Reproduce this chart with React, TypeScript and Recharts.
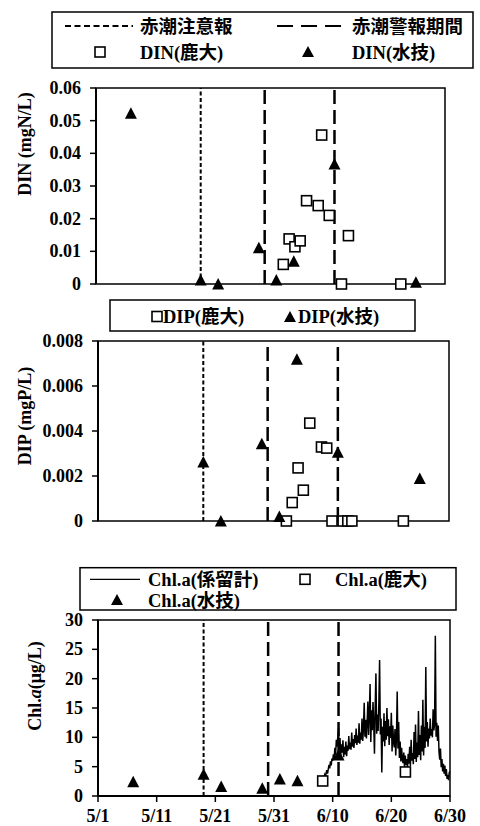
import React from 'react';
import { ComposedChart, Scatter, Line, XAxis, YAxis, ReferenceLine, ReferenceArea, Label } from 'recharts';

// x values are days since 5/1
const dayTicks = [0, 10, 20, 30, 40, 50, 60];
const dayTickLabels = ['5/1', '5/11', '5/21', '5/31', '6/10', '6/20', '6/30'];

const alertDay = 18; // 赤潮注意報
const warningDays = [29, 41]; // 赤潮警報期間

const dinTicks = [0, 0.01, 0.02, 0.03, 0.04, 0.05, 0.06];
const dipTicks = [0, 0.002, 0.004, 0.006, 0.008];
const chlTicks = [0, 5, 10, 15, 20, 25, 30];

const dinKadaiDays = [32.2, 33.2, 34.2, 35.1, 36.2, 38.2, 38.8, 40.1, 42.2, 43.4, 52.4];
const dinKadaiValues = [0.006, 0.0138, 0.0114, 0.0132, 0.0255, 0.024, 0.0456, 0.021, 0, 0.0148, 0];
const dinSuigiDays = [6, 18, 21, 28, 31, 34, 41, 55];
const dinSuigiValues = [0.0523, 0.0012, 0, 0.0111, 0.0012, 0.007, 0.0367, 0.0005];

const dipKadaiDays = [32.2, 33.2, 34.2, 35.1, 36.2, 38.2, 39.1, 40.0, 41.9, 42.7, 43.4, 52.2];
const dipKadaiValues = [0, 0.00082, 0.00236, 0.00137, 0.00435, 0.00329, 0.00324, 0, 0, 0, 0, 0];
const dipSuigiDays = [18, 21, 28, 31, 34, 41, 55];
const dipSuigiValues = [0.00262, 0, 0.00343, 0.0002, 0.00719, 0.00306, 0.00189];

const chlSuigiDays = [6, 18, 21, 28, 31, 34, 41];
const chlSuigiValues = [2.44, 3.7, 1.6, 1.3, 2.9, 2.6, 7.0];
const chlKadaiDays = [38.3, 52.4];
const chlKadaiValues = [2.56, 4.1];

// moored fluorometer (係留計): readings every 3 hours, grouped by day [first sample day, values]
const chlMooredByDay: [number, number[]][] = [
  [38.5, [3.2, 3.6, 3.0, 3.9]],
  [39, [4.4, 3.8, 4.6, 5.3, 4.7, 5.9, 5.2, 6.4]],
  [40, [6.0, 7.1, 6.3, 8.2, 7.0, 9.6, 8.4, 10.1]],
  [41, [11.6, 7.8, 9.9, 6.9, 8.8, 7.4, 9.5, 6.6]],
  [42, [8.4, 7.1, 9.3, 6.8, 8.6, 7.7, 10.2, 8.0]],
  [43, [9.1, 7.9, 10.8, 8.4, 9.7, 8.2, 10.4, 9.0]],
  [44, [11.5, 8.7, 10.3, 9.1, 12.4, 8.9, 10.8, 9.6]],
  [45, [13.2, 9.4, 11.6, 15.9, 10.1, 13.0, 9.8, 12.5]],
  [46, [16.1, 10.4, 13.8, 19.1, 9.2, 14.6, 11.2, 16.0]],
  [47, [12.3, 7.2, 15.4, 20.9, 10.6, 13.9, 11.1, 15.8]],
  [48, [23.2, 10.5, 13.2, 4.0, 11.8, 9.3, 14.1, 8.5]],
  [49, [12.8, 9.6, 15.0, 10.2, 13.1, 8.7, 11.9, 9.9]],
  [50, [14.2, 7.6, 12.0, 9.3, 8.3, 11.4, 6.9, 10.0]],
  [51, [17.8, 8.1, 12.6, 6.5, 9.3, 5.9, 8.2, 6.2]],
  [52, [5.6, 7.4, 4.8, 6.9, 5.3, 6.3, 4.6, 7.2]],
  [53, [5.5, 8.4, 5.1, 9.6, 6.0, 7.3, 5.4, 10.9]],
  [54, [6.3, 12.2, 5.8, 9.1, 6.6, 14.5, 7.0, 10.4]],
  [55, [6.1, 12.0, 7.6, 16.4, 6.9, 11.8, 8.2, 22.0]],
  [56, [9.3, 12.6, 8.4, 11.5, 9.8, 13.2, 10.3, 11.4]],
  [57, [10.0, 14.8, 11.2, 12.3, 27.3, 10.1, 12.5, 9.4]],
  [58, [12.0, 7.5, 6.2, 8.1, 4.9, 6.3, 4.2, 5.5]],
  [59, [3.8, 5.2, 3.4, 4.6, 2.9, 3.6, 2.7, 4.0]],
  [60, [4.2]],
];
const sampleStep = 0.125; // 3 hours

const chlMooredPts = chlMooredByDay.flatMap(([d, vals]) => vals.map((v, k) => ({ x: d + k * sampleStep, y: v })));

const toPts = (days: number[], vals: number[]) => days.map((d, i) => ({ x: d, y: vals[i] }));

const SERIF = '"Liberation Serif", "Times New Roman", serif';
const MIXED = '"Liberation Serif", "Noto Sans CJK JP", serif';

const SquareMark = (props: any) => {
  const { cx, cy } = props;
  if (cx == null || cy == null) return <g />;
  return <rect x={cx - 5} y={cy - 5} width={10} height={10} fill="#fff" stroke="#000" strokeWidth={1.6} />;
};
const TriMark = (props: any) => {
  const { cx, cy } = props;
  if (cx == null || cy == null) return <g />;
  return <polygon points={`${cx},${cy - 6} ${cx - 6},${cy + 5.5} ${cx + 6},${cy + 5.5}`} fill="#000" />;
};

const makeYTick = (fmt: (v: number) => string) => (props: any) => {
  const { x, y, payload } = props;
  return (
    <text x={x} y={y} textAnchor="end" dominantBaseline="central" fontSize={18} fontWeight={700} fontFamily={SERIF} fill="#000">
      {fmt(payload.value)}
    </text>
  );
};
const XTick = (props: any) => {
  const { x, y, payload } = props;
  const idx = dayTicks.indexOf(payload.value);
  return (
    <text x={x} y={y} dy="0.71em" textAnchor="middle" fontSize={18} fontWeight={700} fontFamily={SERIF} fill="#000">
      {idx >= 0 ? dayTickLabels[idx] : ''}
    </text>
  );
};

const axisLine = { stroke: '#000', strokeWidth: 2 };
const tickLine = { stroke: '#000', strokeWidth: 1.5 };

const vLines = () => [
  <ReferenceLine key="a" x={alertDay} stroke="#000" strokeWidth={2} strokeDasharray="4 2.5" ifOverflow="visible" />,
  ...warningDays.map((d, i) => (
    <ReferenceLine key={'w' + i} x={d} stroke="#000" strokeWidth={2.5} strokeDasharray="14 6" ifOverflow="visible" />
  )),
];

const yLabel = (text: React.ReactNode, x: number, cy: number) => (props: any) => (
  <text
    x={x}
    y={cy}
    transform={`rotate(-90 ${x} ${cy})`}
    textAnchor="middle"
    dominantBaseline="central"
    fontSize={18}
    fontWeight={700}
    fontFamily={SERIF}
    fill="#000"
  >
    {text}
  </text>
);

const LegendSvg = ({ children, top, height }: { children: React.ReactNode; top: number; height: number }) => (
  <svg width={480} height={height} style={{ position: 'absolute', left: 0, top }}>
    {children}
  </svg>
);

const legText = { fontSize: 18.5, fontWeight: 700, fontFamily: MIXED, fill: '#000' } as any;

export default function App() {
  return (
    <div style={{ position: 'absolute', left: 0, top: 0, width: 480, height: 826, background: '#fff', overflow: 'hidden' }}>
      {/* Legend 1 */}
      <LegendSvg top={0} height={75}>
        <rect x={52} y={12} width={421} height={56} fill="#fff" stroke="#000" strokeWidth={1.5} />
        <line x1={65} y1={26} x2={133} y2={26} stroke="#000" strokeWidth={2} strokeDasharray="6 3.5" />
        <text x={140} y={32.5} {...legText}>赤潮注意報</text>
        <line x1={277} y1={26} x2={347} y2={26} stroke="#000" strokeWidth={2} strokeDasharray="16 8" />
        <text x={352} y={32.5} {...legText}>赤潮警報期間</text>
        <rect x={95} y={47} width={10} height={10} fill="#fff" stroke="#000" strokeWidth={1.6} />
        <text x={140} y={58.5} {...legText}>DIN(鹿大)</text>
        <polygon points="308,46 302,57 314,57" fill="#000" />
        <text x={352} y={58.5} {...legText}>DIN(水技)</text>
      </LegendSvg>

      {/* Panel 1 */}
      <div style={{ position: 'absolute', left: 0, top: 0 }}>
        <ComposedChart width={480} height={300} margin={{ top: 88, right: 35, bottom: 16, left: 0 }}>
          <XAxis type="number" dataKey="x" domain={[0, 60]} ticks={dayTicks} hide />
          <YAxis
            type="number"
            dataKey="y"
            domain={[0, 0.06]}
            ticks={dinTicks}
            width={96}
            tick={makeYTick((v) => (v === 0 ? '0' : v.toFixed(2)))}
            axisLine={axisLine}
            tickLine={tickLine}
            tickSize={6}
            tickMargin={9}
          >
            <Label content={yLabel('DIN (mgN/L)', 25, 144)} />
          </YAxis>
          <ReferenceArea x1={0} x2={60} y1={0} y2={0.06} fill="none" stroke="#000" strokeWidth={1.5} ifOverflow="visible" />
          {vLines()}
          <Scatter data={toPts(dinKadaiDays, dinKadaiValues)} shape={SquareMark} isAnimationActive={false} />
          <Scatter data={toPts(dinSuigiDays, dinSuigiValues)} shape={TriMark} isAnimationActive={false} />
        </ComposedChart>
      </div>

      {/* Legend 2 */}
      <LegendSvg top={295} height={42}>
        <rect x={110} y={5} width={305} height={31} fill="#fff" stroke="#000" strokeWidth={1.5} />
        <rect x={152} y={16.5} width={10} height={10} fill="#fff" stroke="#000" strokeWidth={1.6} />
        <text x={163} y={28} {...legText}>DIP(鹿大)</text>
        <polygon points="290,16 284,27 296,27" fill="#000" />
        <text x={298} y={28} {...legText}>DIP(水技)</text>
      </LegendSvg>

      {/* Panel 2 */}
      <div style={{ position: 'absolute', left: 0, top: 300 }}>
        <ComposedChart width={480} height={240} margin={{ top: 41, right: 31, bottom: 19, left: 0 }}>
          <XAxis type="number" dataKey="x" domain={[0, 60]} ticks={dayTicks} hide />
          <YAxis
            type="number"
            dataKey="y"
            domain={[0, 0.008]}
            ticks={dipTicks}
            width={98}
            tick={makeYTick((v) => (v === 0 ? '0' : v.toFixed(3)))}
            axisLine={axisLine}
            tickLine={tickLine}
            tickSize={6}
            tickMargin={9}
          >
            <Label content={yLabel('DIP (mgP/L)', 25, 116)} />
          </YAxis>
          <ReferenceArea x1={0} x2={60} y1={0} y2={0.008} fill="none" stroke="#000" strokeWidth={1.5} ifOverflow="visible" />
          {vLines()}
          <Scatter data={toPts(dipKadaiDays, dipKadaiValues)} shape={SquareMark} isAnimationActive={false} />
          <Scatter data={toPts(dipSuigiDays, dipSuigiValues)} shape={TriMark} isAnimationActive={false} />
        </ComposedChart>
      </div>

      {/* Legend 3 */}
      <LegendSvg top={560} height={55}>
        <rect x={80} y={7.7} width={376} height={42.3} fill="#fff" stroke="#000" strokeWidth={1.5} />
        <line x1={90} y1={19.3} x2={140} y2={19.3} stroke="#000" strokeWidth={1.2} />
        <text x={148} y={25.8} {...legText}>Chl.a(係留計)</text>
        <rect x={300} y={14.3} width={10} height={10} fill="#fff" stroke="#000" strokeWidth={1.6} />
        <text x={335} y={25.8} {...legText}>Chl.a(鹿大)</text>
        <polygon points="117,34 111,45 123,45" fill="#000" />
        <text x={148} y={46.5} {...legText}>Chl.a(水技)</text>
      </LegendSvg>

      {/* Panel 3 */}
      <div style={{ position: 'absolute', left: 0, top: 540 }}>
        <ComposedChart width={480} height={286} margin={{ top: 80, right: 30, bottom: 0, left: 0 }}>
          <XAxis
            type="number"
            dataKey="x"
            domain={[0, 60]}
            ticks={dayTicks}
            tick={XTick}
            axisLine={axisLine}
            tickLine={tickLine}
            tickSize={6}
            tickMargin={7}
            height={30}
            interval={0}
          />
          <YAxis
            type="number"
            dataKey="y"
            domain={[0, 30]}
            ticks={chlTicks}
            width={98}
            tick={makeYTick((v) => String(v))}
            axisLine={axisLine}
            tickLine={tickLine}
            tickSize={6}
            tickMargin={9}
          >
            <Label
              content={yLabel(
                <>
                  <tspan>Chl.</tspan>
                  <tspan fontStyle="italic">a</tspan>
                  <tspan>(μg/L)</tspan>
                </>,
                35,
                146
              )}
            />
          </YAxis>
          <ReferenceArea x1={0} x2={60} y1={0} y2={30} fill="none" stroke="#000" strokeWidth={1.5} ifOverflow="visible" />
          {vLines()}
          <Line
            data={chlMooredPts}
            dataKey="y"
            stroke="#000"
            strokeWidth={1.5}
            dot={false}
            activeDot={false}
            isAnimationActive={false}
          />
          <Scatter data={toPts(chlKadaiDays, chlKadaiValues)} shape={SquareMark} isAnimationActive={false} />
          <Scatter data={toPts(chlSuigiDays, chlSuigiValues)} shape={TriMark} isAnimationActive={false} />
        </ComposedChart>
      </div>
    </div>
  );
}
